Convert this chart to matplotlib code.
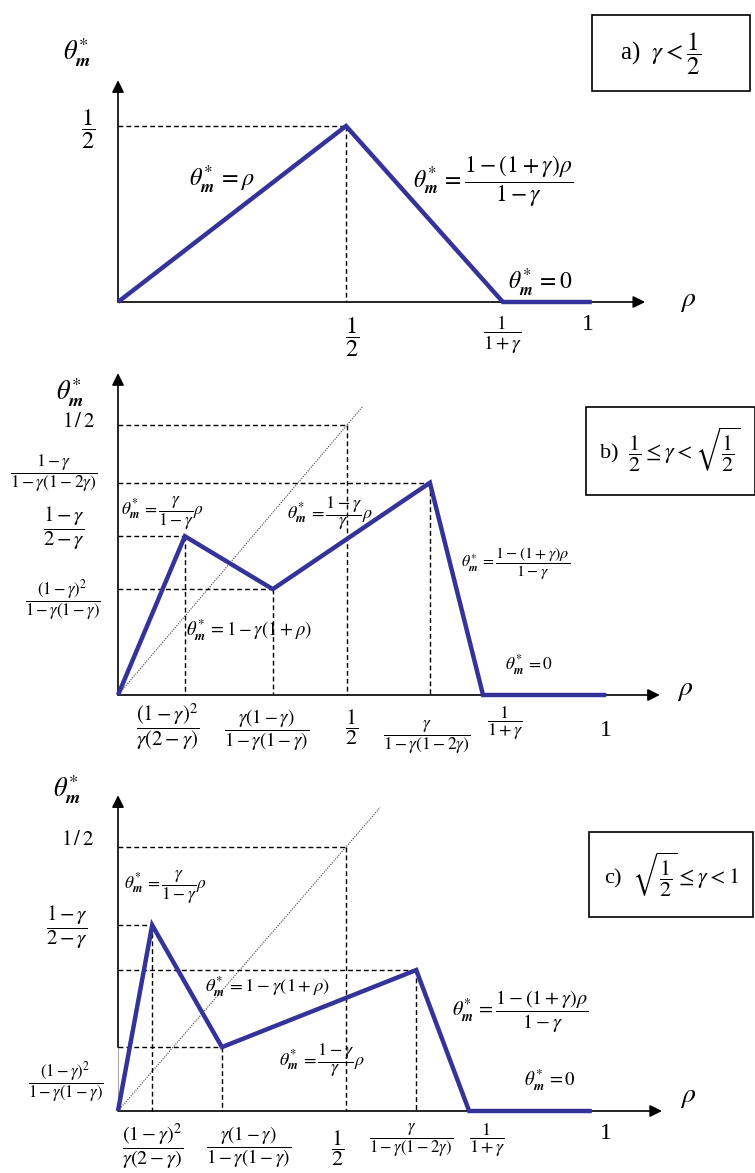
import matplotlib.pyplot as plt
from matplotlib.patches import Rectangle

plt.rcParams['font.family'] = ['Liberation Serif', 'DejaVu Serif']
plt.rcParams['mathtext.fontset'] = 'stix'

W, H = 755, 1173
BLUE = '#333399'
TH = r'$\theta^{*}_{\boldsymbol{m}}$'

# breakpoints of theta_m*(rho) for the three cases
rho_a = [0.0, 0.5, 0.844, 1.039]
theta_a = [0.0, 0.5, 0.0, 0.0]

rho_b = [0.0, 0.146, 0.338, 0.681, 0.797, 1.066]
theta_b = [0.0, 0.294, 0.196, 0.393, 0.0, 0.0]

rho_c = [0.0, 0.075, 0.228, 0.654, 0.770, 1.039]
theta_c = [0.0, 0.352, 0.121, 0.267, 0.0, 0.0]

# where the dotted 45 degree line stops (b, c)
diag_b = 0.535
diag_c = 0.575

# pixel origin and pixels per unit of each panel
frames = {
    'a': (118, 302, 456, 352),
    'b': (118, 695, 458, 540),
    'c': (118, 1111, 456, 528),
}

fig = plt.figure(figsize=(W / 100, H / 100), dpi=100)


def make_ax(key):
    ox, oy, sx, sy = frames[key]
    ax = fig.add_axes([0, 0, 1, 1], facecolor='none')
    ax.set_xlim(-ox / sx, (W - ox) / sx)
    ax.set_ylim((oy - H) / sy, oy / sy)
    ax.axis('off')
    return ax


def axes_arrows(ax, xtip, ytip, ybase=0.0):
    kw = dict(arrowstyle='-|>', color='k', lw=1.2, mutation_scale=18,
              shrinkA=0, shrinkB=0)
    ax.annotate('', xy=(xtip, 0), xytext=(0, 0), arrowprops=kw)
    ax.annotate('', xy=(0, ytip), xytext=(0, ybase), arrowprops=kw)


def guides(ax, xs, ys):
    for x, y in zip(xs, ys):
        ax.plot([0, x], [y, y], color='k', lw=1.0, ls=(0, (3.5, 2.2)))
        ax.plot([x, x], [y, 0], color='k', lw=1.0, ls=(0, (3.5, 2.2)))


def curve(ax, rho, theta):
    ax.plot(rho, theta, color=BLUE, lw=3.2, solid_joinstyle='miter',
            solid_capstyle='butt', zorder=5)


def put(ax, x, y, s, size, ha='center'):
    ax.text(x, y, s, fontsize=size, ha=ha, va='center')


def box(ax, x0, y0, x1, y1, s, tx, ty, size):
    ax.add_patch(Rectangle((x0, y0), x1 - x0, y1 - y0, fill=False,
                           ec='k', lw=1.2, clip_on=False))
    put(ax, tx, ty, s, size)


# ---------------- panel a ----------------
ax = make_ax('a')
axes_arrows(ax, 1.156, 0.63)
guides(ax, [rho_a[1]], [theta_a[1]])
curve(ax, rho_a, theta_a)
put(ax, -0.09, 0.71, TH, 19)
put(ax, -0.066, 0.49, r'$\dfrac{1}{2}$', 17.5)
put(ax, 0.513, -0.10, r'$\dfrac{1}{2}$', 17.5)
put(ax, 0.844, -0.094, r'$\dfrac{1}{1+\gamma}$', 14)
put(ax, 1.03, -0.065, '1', 17)
put(ax, 1.25, 0.0, r'$\rho$', 20)
put(ax, 0.228, 0.347, TH + r'$\,=\rho$', 17.5)
put(ax, 0.822, 0.341, TH + r'$\,=\dfrac{1-(1+\gamma)\rho}{1-\gamma}$', 17)
put(ax, 0.925, 0.054, TH + r'$\,=0$', 17)
box(ax, 1.039, 0.599, 1.386, 0.815, r'a)  $\gamma<\dfrac{1}{2}$',
    1.19, 0.707, 18)

# ---------------- panel b ----------------
ax = make_ax('b')
axes_arrows(ax, 1.183, 0.596)
ax.plot([0, diag_b], [0, diag_b], color='#444444', lw=0.8, ls=(0, (1, 1.2)))
guides(ax, [0.5] + rho_b[1:4], [0.5] + theta_b[1:4])
curve(ax, rho_b, theta_b)
put(ax, -0.105, 0.561, TH, 19)
put(ax, -0.087, 0.505, r'$1\,/\,2$', 15)
put(ax, -0.14, 0.411, r'$\dfrac{1-\gamma}{1-\gamma(1-2\gamma)}$', 12.5)
put(ax, -0.118, 0.309, r'$\dfrac{1-\gamma}{2-\gamma}$', 15)
put(ax, -0.12, 0.176, r'$\dfrac{(1-\gamma)^2}{1-\gamma(1-\gamma)}$', 12)
put(ax, 0.109, -0.059, r'$\dfrac{(1-\gamma)^2}{\gamma(2-\gamma)}$', 15)
put(ax, 0.325, -0.065, r'$\dfrac{\gamma(1-\gamma)}{1-\gamma(1-\gamma)}$', 13.5)
put(ax, 0.511, -0.059, r'$\dfrac{1}{2}$', 16)
put(ax, 0.675, -0.078, r'$\dfrac{\gamma}{1-\gamma(1-2\gamma)}$', 12.5)
put(ax, 0.845, -0.052, r'$\dfrac{1}{1+\gamma}$', 13)
put(ax, 1.066, -0.065, '1', 17)
put(ax, 1.238, 0.009, r'$\rho$', 20)
put(ax, 0.096, 0.337, TH + r'$\,=\dfrac{\gamma}{1-\gamma}\rho$', 12.5)
put(ax, 0.463, 0.337, TH + r'$\,=\dfrac{1-\gamma}{\gamma}\rho$', 13)
put(ax, 0.286, 0.12, TH + r'$\,=1-\gamma(1+\rho)$', 13.4)
put(ax, 0.869, 0.244, TH + r'$\,=\dfrac{1-(1+\gamma)\rho}{1-\gamma}$', 11.5)
put(ax, 0.897, 0.056, TH + r'$\,=0$', 12.5)
box(ax, 1.022, 0.370, 1.391, 0.533,
    r'b)  $\dfrac{1}{2}\leq\gamma<\sqrt{\dfrac{1}{2}}$', 1.205, 0.454, 16)

# ---------------- panel c ----------------
ax = make_ax('c')
axes_arrows(ax, 1.193, 0.598, ybase=theta_c[2])
ax.plot([0, 0], [0, theta_c[2]], color='#aaaaaa', lw=0.8)
ax.plot([0, diag_c], [0, diag_c], color='#444444', lw=0.8, ls=(0, (1, 1.2)))
guides(ax, [0.5] + rho_c[1:4], [0.5] + theta_c[1:4])
curve(ax, rho_c, theta_c)
put(ax, -0.112, 0.608, TH, 19)
put(ax, -0.088, 0.513, r'$1\,/\,2$', 15)
put(ax, -0.112, 0.348, r'$\dfrac{1-\gamma}{2-\gamma}$', 15)
put(ax, -0.114, 0.055, r'$\dfrac{(1-\gamma)^2}{1-\gamma(1-\gamma)}$', 12)
put(ax, 0.077, -0.068, r'$\dfrac{(1-\gamma)^2}{\gamma(2-\gamma)}$', 14.5)
put(ax, 0.287, -0.068, r'$\dfrac{\gamma(1-\gamma)}{1-\gamma(1-\gamma)}$', 13.5)
put(ax, 0.482, -0.070, r'$\dfrac{1}{2}$', 16)
put(ax, 0.643, -0.055, r'$\dfrac{\gamma}{1-\gamma(1-2\gamma)}$', 12)
put(ax, 0.809, -0.055, r'$\dfrac{1}{1+\gamma}$', 13)
put(ax, 1.07, -0.042, '1', 17)
put(ax, 1.25, 0.025, r'$\rho$', 20)
put(ax, 0.103, 0.424, TH + r'$\,=\dfrac{\gamma}{1-\gamma}\rho$', 12.5)
put(ax, 0.327, 0.235, TH + r'$\,=1-\gamma(1+\rho)$', 13.3)
put(ax, 0.447, 0.097, TH + r'$\,=\dfrac{1-\gamma}{\gamma}\rho$', 13)
put(ax, 0.882, 0.1875, TH + r'$\,=\dfrac{1-(1+\gamma)\rho}{1-\gamma}$', 14.5)
put(ax, 0.947, 0.059, TH + r'$\,=0$', 13.6)
box(ax, 1.033, 0.367, 1.393, 0.528,
    r'c)  $\sqrt{\dfrac{1}{2}}\leq\gamma<1$', 1.213, 0.447, 16)

fig.savefig('out.png', dpi=100)
